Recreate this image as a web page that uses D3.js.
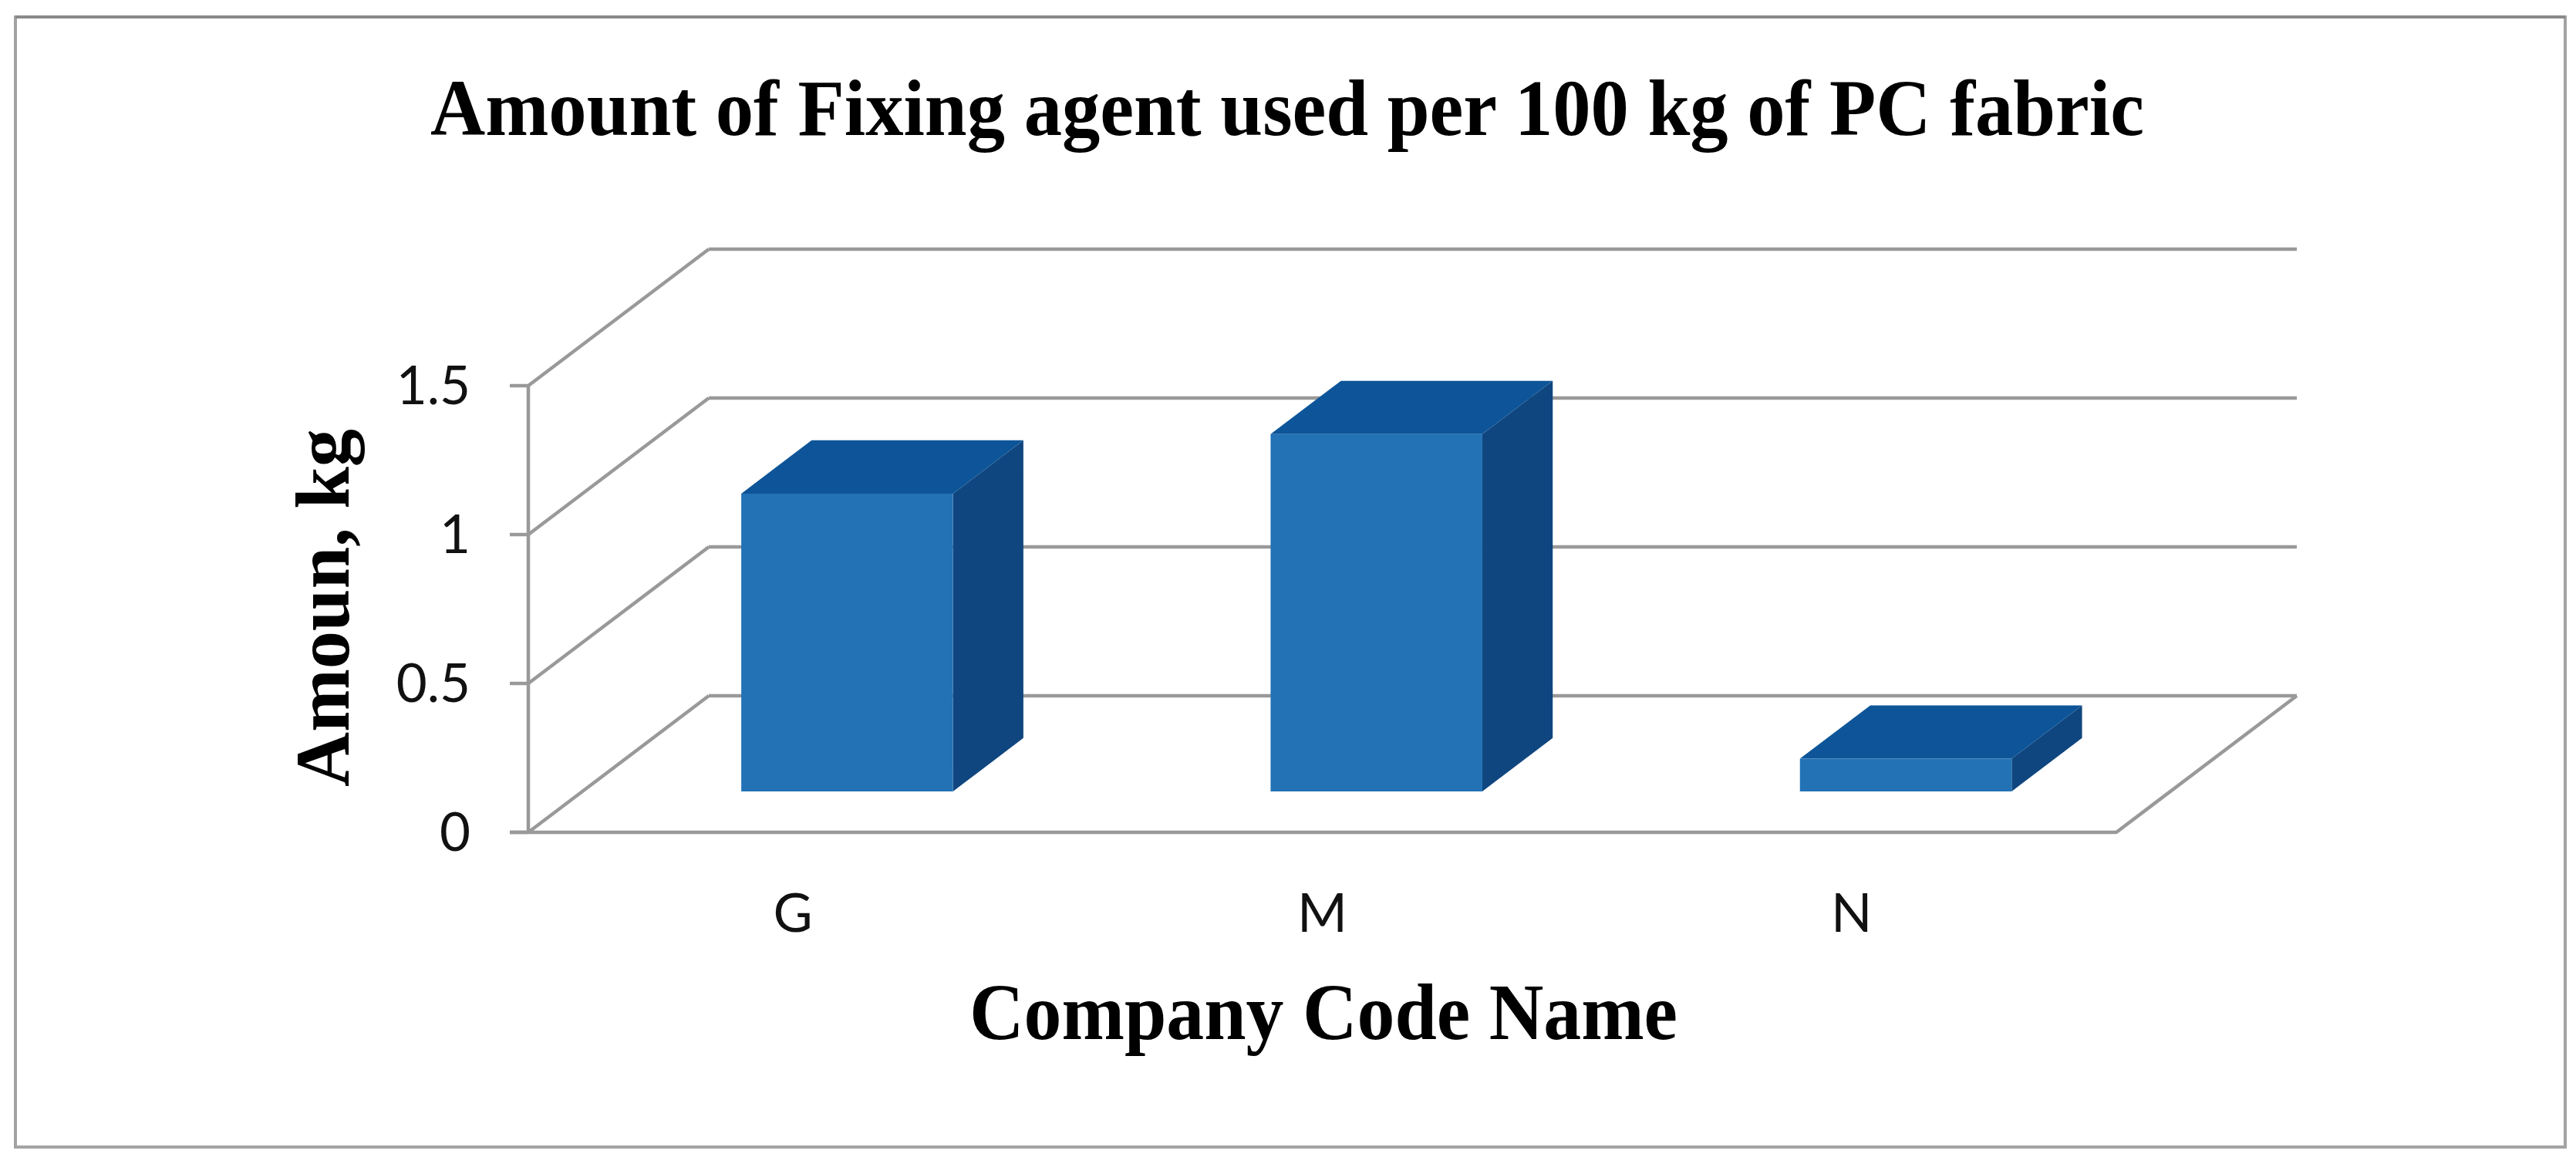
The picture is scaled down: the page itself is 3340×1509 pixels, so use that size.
<!DOCTYPE html>
<html>
<head>
<meta charset="utf-8">
<script src="https://cdn.jsdelivr.net/npm/d3@7"></script>
<style>
  html, body { margin: 0; padding: 0; background: #fff; }
  svg { display: block; }
</style>
</head>
<body>
<svg id="chart" width="3340" height="1509"></svg>
<script>
// ---- data ----
const categories = ["G", "M", "N"];
const values = [1.0, 1.2, 0.11];
const yTicks = [0, 0.5, 1, 1.5];
const yTickLabels = ["0", "0.5", "1", "1.5"];
const titleText = "Amount of Fixing agent used per 100 kg of PC fabric";
const xTitleText = "Company Code Name";
const yTitleText = "Amoun, kg";

// ---- layout ----
const svg = d3.select("#chart");
const frontLeft = 685, frontRight = 2744;
const DX = 234, DY = -177;          // full depth offset of the 3D box
const barD0 = 0.30, barD1 = 0.69;    // bar depth span (fractions)
const gridColor = "#999999";
const gridW = 4.5;

const x = d3.scaleBand().domain(categories).range([frontLeft, frontRight])
  .paddingInner(0.6).paddingOuter(0.3);
const y = d3.scaleLinear().domain([0, 1.5]).range([1079, 500]);

function P(xf, v, d) { return [xf + d * DX, y(v) + d * DY]; }

// outer frame
svg.append("rect").attr("x", 20).attr("y", 22).attr("width", 3306).attr("height", 1465)
  .attr("fill", "#fff").attr("stroke", "#a3a3a3").attr("stroke-width", 4);
svg.append("line").attr("x1", 20).attr("x2", 3326).attr("y1", 22).attr("y2", 22)
  .attr("stroke", "#8a8a8a").attr("stroke-width", 4);

const line = d3.line();
const g = svg.append("g");

// back wall gridlines and left wall diagonals
yTicks.forEach(v => {
  g.append("path").attr("d", line([P(frontLeft, v, 1), P(frontRight, v, 1)]))
    .attr("stroke", gridColor).attr("stroke-width", gridW).attr("fill", "none");
  g.append("path").attr("d", line([P(frontLeft, v, 0), P(frontLeft, v, 1)]))
    .attr("stroke", gridColor).attr("stroke-width", gridW).attr("fill", "none");
});
// floor front edge and right edge
g.append("path").attr("d", line([[frontLeft - 24, y(0)], P(frontRight, 0, 0), P(frontRight, 0, 1)]))
  .attr("stroke", gridColor).attr("stroke-width", gridW).attr("fill", "none").attr("stroke-linejoin", "round");
// vertical axis + ticks
g.append("path").attr("d", line([[frontLeft, y(0)], [frontLeft, y(1.5)]]))
  .attr("stroke", gridColor).attr("stroke-width", gridW).attr("fill", "none");
yTicks.forEach(v => {
  g.append("path").attr("d", line([[frontLeft - 24, y(v)], [frontLeft, y(v)]]))
    .attr("stroke", gridColor).attr("stroke-width", gridW).attr("fill", "none");
});

// tick labels
svg.append("g").selectAll("text").data(yTicks).join("text")
  .attr("x", 610).attr("y", d => y(d) + 24)
  .attr("text-anchor", "end")
  .style("font-family", "Lato, 'Open Sans', sans-serif").style("font-size", "69px").attr("fill", "#111")
  .text((d, i) => yTickLabels[i]);

// bars
const bars = svg.append("g");
categories.forEach((c, i) => {
  const v = values[i];
  const x0 = x(c), x1 = x(c) + x.bandwidth();
  bars.append("path").attr("d", line([P(x1, 0, barD0), P(x1, v, barD0), P(x1, v, barD1), P(x1, 0, barD1)]) + "Z")
    .attr("fill", "#10467f");
  bars.append("path").attr("d", line([P(x0, v, barD0), P(x1, v, barD0), P(x1, v, barD1), P(x0, v, barD1)]) + "Z")
    .attr("fill", "#0d5598");
  bars.append("path").attr("d", line([P(x0, 0, barD0), P(x1, 0, barD0), P(x1, v, barD0), P(x0, v, barD0)]) + "Z")
    .attr("fill", "#2372b6");
});

// category labels
svg.append("g").selectAll("text").data(categories).join("text")
  .attr("x", d => x(d) + x.bandwidth() / 2).attr("y", 1208)
  .attr("text-anchor", "middle")
  .style("font-family", "Lato, 'Open Sans', sans-serif").style("font-size", "70px").attr("fill", "#111")
  .text(d => d);

// titles (condensed like the original)
const serif = "'Liberation Serif', 'Times New Roman', serif";
svg.append("text").attr("x", 1669).attr("y", 175).attr("text-anchor", "middle")
  .style("font-family", serif).style("font-weight", "bold").style("font-size", "104px")
  .attr("textLength", 2222).attr("lengthAdjust", "spacingAndGlyphs")
  .attr("fill", "#000").text(titleText);

svg.append("text").attr("x", 1716).attr("y", 1347).attr("text-anchor", "middle")
  .style("font-family", serif).style("font-weight", "bold").style("font-size", "104px")
  .attr("textLength", 918).attr("lengthAdjust", "spacingAndGlyphs")
  .attr("fill", "#000").text(xTitleText);

svg.append("text").attr("transform", "translate(452,788) rotate(-90)").attr("text-anchor", "middle")
  .style("font-family", serif).style("font-weight", "bold").style("font-size", "100px")
  .attr("textLength", 464).attr("lengthAdjust", "spacingAndGlyphs")
  .attr("fill", "#000").text(yTitleText);
</script>
</body>
</html>
